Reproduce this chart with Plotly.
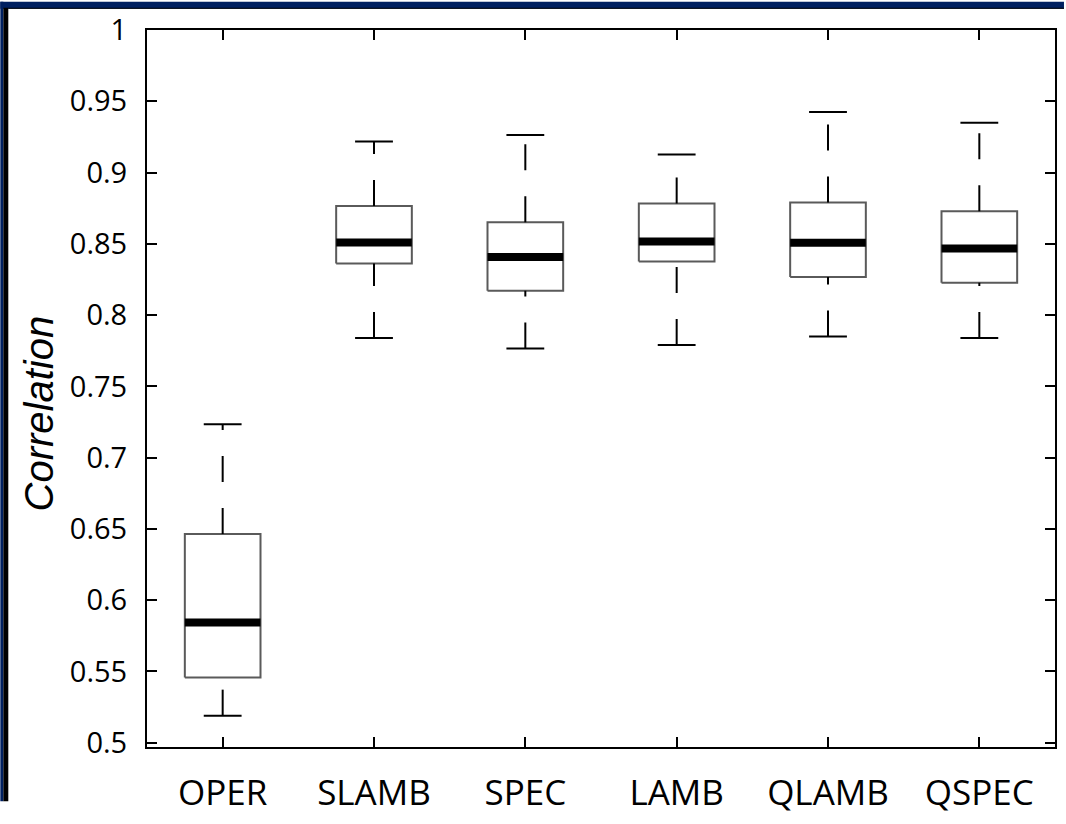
import plotly.graph_objects as go

categories = ["OPER", "SLAMB", "SPEC", "LAMB", "QLAMB", "QSPEC"]
lower_whisker = [0.519, 0.784, 0.7765, 0.779, 0.785, 0.784]
q1 = [0.5457, 0.8362, 0.817, 0.8376, 0.8267, 0.8227]
median = [0.5843, 0.851, 0.8408, 0.8516, 0.8507, 0.8467]
q3 = [0.6465, 0.8765, 0.8652, 0.8783, 0.879, 0.8729]
upper_whisker = [0.7234, 0.9217, 0.9263, 0.9127, 0.9425, 0.9349]
y_ticks = [0.5, 0.55, 0.6, 0.65, 0.7, 0.75, 0.8, 0.85, 0.9, 0.95, 1.0]
y_tick_labels = ["0.5", "0.55", "0.6", "0.65", "0.7", "0.75", "0.8", "0.85", "0.9", "0.95", "1"]

W = 1066
H = 824
ML, MR, MT, MB = 147, 9, 29, 56
PW = W - ML - MR
PH = H - MT - MB

HALF = 0.25
CAP = 0.125

fig = go.Figure()

# boxes
bx, by = [], []
for i in range(len(categories)):
    bx += [i - HALF, i + HALF, i + HALF, i - HALF, i - HALF, None]
    by += [q1[i], q1[i], q3[i], q3[i], q1[i], None]
fig.add_trace(go.Scatter(x=bx, y=by, mode="lines", line=dict(color="#5a5a5a", width=2),
                         hoverinfo="skip", showlegend=False))

# whiskers (dashed), drawn upward like the original
for i in range(len(categories)):
    fig.add_trace(go.Scatter(x=[i, i], y=[lower_whisker[i], q1[i]], mode="lines",
                             line=dict(color="black", width=2, dash="26px,26px"),
                             hoverinfo="skip", showlegend=False))
    fig.add_trace(go.Scatter(x=[i, i], y=[q3[i], upper_whisker[i]], mode="lines",
                             line=dict(color="black", width=2, dash="26px,26px"),
                             hoverinfo="skip", showlegend=False))

# caps
cx, cy = [], []
for i in range(len(categories)):
    cx += [i - CAP, i + CAP, None, i - CAP, i + CAP, None]
    cy += [lower_whisker[i], lower_whisker[i], None, upper_whisker[i], upper_whisker[i], None]
fig.add_trace(go.Scatter(x=cx, y=cy, mode="lines", line=dict(color="black", width=2),
                         hoverinfo="skip", showlegend=False))

# medians
mx, my = [], []
for i in range(len(categories)):
    mx += [i - HALF, i + HALF, None]
    my += [median[i], median[i], None]
fig.add_trace(go.Scatter(x=mx, y=my, mode="lines", line=dict(color="black", width=8),
                         hoverinfo="skip", showlegend=False))


def px_x(p):
    return (p - ML) / PW


def px_y(p):
    return (H - MB - p) / PH


shapes = [
    dict(type="rect", xref="paper", yref="paper", x0=px_x(0), x1=px_x(W), y0=px_y(7), y1=px_y(0),
         fillcolor="#002060", line=dict(width=0), layer="above"),
    dict(type="rect", xref="paper", yref="paper", x0=px_x(0), x1=px_x(3), y0=px_y(H), y1=px_y(0),
         fillcolor="#002060", line=dict(width=0), layer="above"),
    dict(type="rect", xref="paper", yref="paper", x0=px_x(3), x1=px_x(8), y0=px_y(H), y1=px_y(6),
         fillcolor="#000000", line=dict(width=0), layer="above"),
    dict(type="rect", xref="paper", yref="paper", x0=px_x(8), x1=px_x(W), y0=px_y(7), y1=px_y(6),
         fillcolor="#000000", line=dict(width=0), layer="above"),
]

fig.update_layout(
    width=W, height=H,
    margin=dict(l=ML, r=MR, t=MT, b=MB, pad=0),
    paper_bgcolor="white", plot_bgcolor="white",
    shapes=shapes,
    annotations=[dict(text="<i>Correlation</i>", xref="paper", yref="paper",
                      x=px_x(39), y=px_y(424), textangle=-90, showarrow=False,
                      xanchor="center", yanchor="middle",
                      font=dict(family="Liberation Sans, Arial", size=40, color="black"))],
    xaxis=dict(range=[-0.5, 5.5], tickmode="array", tickvals=list(range(len(categories))),
               ticktext=categories, showgrid=False, zeroline=False,
               showline=True, linecolor="black", linewidth=2, mirror="allticks",
               ticks="inside", ticklen=10, tickwidth=1.5, tickcolor="black",
               ticklabelstandoff=14,
               tickfont=dict(family="Open Sans", size=35, color="black")),
    yaxis=dict(range=[0.497, 1.0], tickmode="array", tickvals=y_ticks, ticktext=y_tick_labels,
               showgrid=False, zeroline=False,
               showline=True, linecolor="black", linewidth=2, mirror="allticks",
               ticks="inside", ticklen=10, tickwidth=1.5, tickcolor="black",
               ticklabelstandoff=12,
               tickfont=dict(family="Open Sans", size=29, color="black")),
)

fig.write_html("out.html")
